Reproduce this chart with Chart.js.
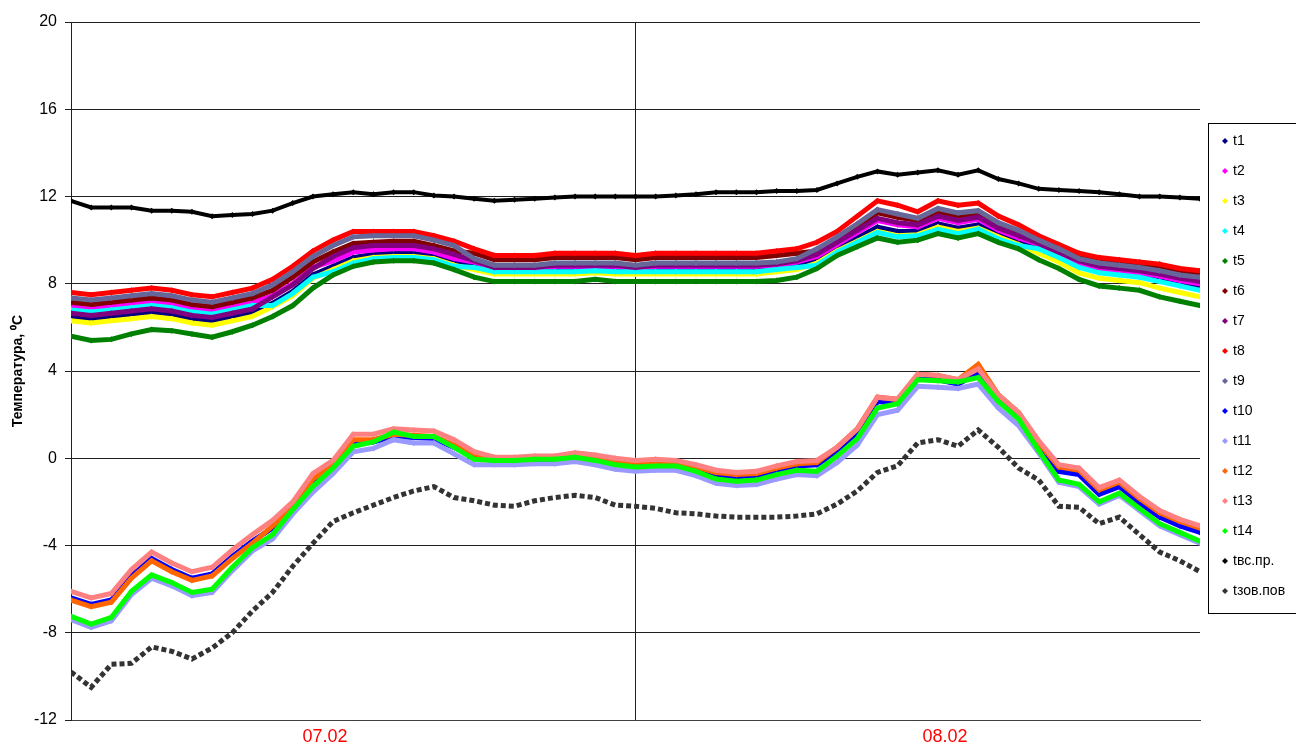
<!DOCTYPE html>
<html>
<head>
<meta charset="utf-8">
<title>Температура</title>
<script src="https://cdn.jsdelivr.net/npm/chart.js@4.4.1/dist/chart.umd.min.js"></script>
<style>
    html, body { margin: 0; padding: 0; background: #fff; }
    canvas { display: block; }
</style>
</head>
<body>
<canvas id="tempChart" width="1296" height="746"></canvas>
<script>
// Series names (legend order) and their Excel-style colours
const seriesNames = ['t1', 't2', 't3', 't4', 't5', 't6', 't7', 't8', 't9', 't10', 't11', 't12', 't13', 't14', 'tвс.пр.', 'tзов.пов'];
const seriesColors = ['#000080', '#ff00ff', '#ffff00', '#00ffff', '#008000', '#800000', '#800080', '#ff0000',
    '#666699', '#0000ff', '#9999ff', '#ff6600', '#ff8080', '#00ff00', '#000000', '#333333'];

// x axis: sample index, two date labels and a gridline in the middle
const xTickPos = [12.6, 28, 43.35];
const xTickLabels = ['07.02', '', '08.02'];

// Readings (°C), one value per sample
const t1 = [6.5,6.4,6.5,6.6,6.7,6.6,6.4,6.3,6.5,6.7, 7.1,7.65,8.4,8.8,9.2,9.35,9.4,9.4,9.25,9.0, 8.9,8.7,8.7,8.7,8.7,8.7,8.75,8.7,8.7,8.7,
    8.7,8.7,8.7,8.7,8.7,8.8,8.9,9.05,9.65,10.1, 10.6,10.4,10.4,10.75,10.55,10.7,10.25,9.95,9.65,9.25, 8.8,8.55,8.45,8.35,8.15,7.95,7.8];
const t2 = [6.95,6.85,6.95,7.05,7.15,7.05,6.85,6.75,6.95,7.15, 7.45,8.0,8.75,9.05,9.45,9.55,9.6,9.6,9.45,9.15, 9.0,8.7,8.7,8.7,8.8,8.8,8.8,8.8,8.7,8.8,
    8.8,8.8,8.8,8.8,8.8,8.85,9.0,9.25,9.8,10.35, 10.9,10.7,10.6,11.0,10.8,10.95,10.45,10.1,9.8,9.4, 8.95,8.7,8.6,8.5,8.35,8.15,8.0];
const t3 = [6.3,6.2,6.3,6.4,6.5,6.4,6.2,6.1,6.3,6.5, 6.95,7.45,8.25,8.65,9.05,9.2,9.25,9.25,9.15,8.85, 8.65,8.45,8.45,8.45,8.45,8.45,8.5,8.45,8.45,8.45,
    8.45,8.45,8.45,8.45,8.45,8.55,8.65,8.95,9.5,9.95, 10.4,10.2,10.25,10.6,10.4,10.55,10.15,9.8,9.4,9.0, 8.5,8.25,8.15,8.05,7.8,7.6,7.4];
const t4 = [6.8,6.7,6.8,6.9,7.0,6.9,6.7,6.6,6.8,7.0, 7.0,7.55,8.3,8.55,8.95,9.15,9.2,9.2,9.1,8.8, 8.75,8.55,8.55,8.55,8.55,8.55,8.6,8.55,8.55,8.55,
    8.55,8.55,8.55,8.55,8.55,8.65,8.75,8.85,9.45,9.9, 10.35,10.15,10.2,10.5,10.3,10.5,10.05,9.75,9.6,9.2, 8.75,8.5,8.4,8.3,8.1,7.9,7.7];
const t5 = [5.6,5.4,5.45,5.7,5.9,5.85,5.7,5.55,5.8,6.1, 6.5,7.0,7.8,8.4,8.8,9.0,9.05,9.05,8.95,8.65, 8.3,8.1,8.1,8.1,8.1,8.1,8.2,8.1,8.1,8.1,
    8.1,8.1,8.1,8.1,8.1,8.15,8.3,8.7,9.3,9.7, 10.1,9.9,10.0,10.3,10.1,10.3,9.9,9.6,9.1,8.7, 8.2,7.9,7.8,7.7,7.4,7.2,7.0];
const t6 = [7.15,7.05,7.15,7.25,7.35,7.25,7.05,6.95,7.15,7.35, 7.7,8.3,9.0,9.45,9.85,9.9,9.95,9.95,9.75,9.5, 9.4,9.1,9.1,9.1,9.2,9.2,9.2,9.2,9.1,9.2,
    9.2,9.2,9.2,9.2,9.2,9.3,9.4,9.5,10.05,10.65, 11.25,11.05,10.9,11.3,11.1,11.25,10.7,10.35,10.1,9.7, 9.3,9.05,8.95,8.85,8.75,8.55,8.45];
const t7 = [6.65,6.55,6.65,6.75,6.85,6.75,6.55,6.45,6.65,6.85, 7.4,7.95,8.7,9.25,9.65,9.75,9.75,9.75,9.6,9.35, 9.05,8.75,8.75,8.75,8.85,8.85,8.85,8.85,8.75,8.85,
    8.85,8.85,8.85,8.85,8.85,8.9,9.05,9.35,9.9,10.45, 11.0,10.8,10.7,11.1,10.9,11.05,10.55,10.2,9.85,9.45, 9.05,8.8,8.7,8.6,8.45,8.25,8.1];
const t8 = [7.6,7.5,7.6,7.7,7.8,7.7,7.5,7.4,7.6,7.8, 8.2,8.8,9.5,10.0,10.4,10.4,10.4,10.4,10.2,9.95, 9.6,9.3,9.3,9.3,9.4,9.4,9.4,9.4,9.3,9.4,
    9.4,9.4,9.4,9.4,9.4,9.5,9.6,9.9,10.4,11.1, 11.8,11.6,11.3,11.8,11.6,11.7,11.1,10.7,10.2,9.8, 9.4,9.2,9.1,9.0,8.9,8.7,8.6];
const t9 = [7.35,7.25,7.35,7.45,7.55,7.45,7.25,7.15,7.35,7.55, 7.95,8.55,9.25,9.75,10.15,10.2,10.2,10.2,10.0,9.75, 9.15,8.85,8.85,8.85,8.95,8.95,8.95,8.95,8.85,8.95,
    8.95,8.95,8.95,8.95,8.95,9.0,9.15,9.6,10.15,10.75, 11.4,11.2,11.0,11.45,11.25,11.35,10.8,10.45,10.0,9.6, 9.15,8.95,8.85,8.75,8.6,8.4,8.3];
const t10 = [-6.4,-6.7,-6.5,-5.4,-4.6,-5.1,-5.5,-5.3,-4.5,-3.8, -3.2,-2.35,-1.05,-0.45,0.75,0.75,1.0,0.95,0.9,0.5, 0.1,-0.15,-0.15,-0.1,-0.1,0.05,-0.05,-0.2,-0.3,-0.25,
    -0.3,-0.5,-0.75,-0.85,-0.8,-0.55,-0.35,-0.3,0.3,1.15, 2.6,2.5,3.65,3.6,3.4,3.9,2.7,1.9,0.5,-0.6, -0.75,-1.65,-1.3,-2.05,-2.7,-3.1,-3.4];
const t11 = [-7.4,-7.75,-7.45,-6.25,-5.5,-5.85,-6.3,-6.15,-5.15,-4.25, -3.7,-2.55,-1.55,-0.7,0.3,0.45,0.85,0.7,0.7,0.2, -0.3,-0.3,-0.3,-0.25,-0.25,-0.15,-0.3,-0.5,-0.6,-0.55,
    -0.55,-0.8,-1.15,-1.25,-1.2,-0.95,-0.75,-0.8,-0.2,0.6, 2.0,2.2,3.3,3.25,3.2,3.4,2.3,1.5,0.25,-1.1, -1.3,-2.1,-1.7,-2.4,-3.1,-3.5,-3.9];
const t12 = [-6.5,-6.8,-6.6,-5.5,-4.7,-5.2,-5.6,-5.4,-4.6,-3.9, -3.1,-2.25,-0.95,-0.35,0.85,0.85,1.1,1.05,1.0,0.6, 0.2,-0.05,-0.05,0.0,0.0,0.15,0.05,-0.1,-0.2,-0.15,
    -0.2,-0.4,-0.65,-0.75,-0.7,-0.45,-0.25,-0.2,0.5,1.35, 2.8,2.7,3.85,3.8,3.6,4.3,2.9,2.1,0.7,-0.4, -0.55,-1.45,-1.1,-1.85,-2.5,-2.9,-3.2];
const t13 = [-6.1,-6.4,-6.2,-5.1,-4.3,-4.8,-5.2,-5.0,-4.2,-3.5, -2.85,-2.0,-0.7,-0.1,1.1,1.1,1.35,1.3,1.25,0.85, 0.3,0.05,0.05,0.1,0.1,0.25,0.15,0.0,-0.1,-0.05,
    -0.1,-0.3,-0.55,-0.65,-0.6,-0.35,-0.15,-0.1,0.5,1.35, 2.8,2.7,3.85,3.8,3.6,4.1,2.9,2.1,0.8,-0.3, -0.45,-1.35,-1.0,-1.75,-2.4,-2.8,-3.1];
const t14 = [-7.25,-7.6,-7.3,-6.1,-5.35,-5.7,-6.15,-6.0,-5.0,-4.1, -3.5,-2.35,-1.3,-0.45,0.55,0.75,1.2,1.0,1.0,0.5, -0.05,-0.1,-0.1,-0.05,-0.05,0.05,-0.1,-0.3,-0.4,-0.35,
    -0.35,-0.6,-0.95,-1.05,-1.0,-0.75,-0.55,-0.6,0.1,0.9, 2.3,2.5,3.6,3.55,3.5,3.7,2.6,1.8,0.35,-1.0, -1.2,-2.0,-1.6,-2.3,-3.0,-3.4,-3.8];
const tvsPr = [11.8,11.5,11.5,11.5,11.35,11.35,11.3,11.1,11.15,11.2, 11.35,11.7,12.0,12.1,12.2,12.1,12.2,12.2,12.05,12.0, 11.9,11.8,11.85,11.9,11.95,12.0,12.0,12.0,12.0,12.0,
    12.05,12.1,12.2,12.2,12.2,12.25,12.25,12.3,12.6,12.9, 13.15,13.0,13.1,13.2,13.0,13.2,12.8,12.6,12.35,12.3, 12.25,12.2,12.1,12.0,12.0,11.95,11.9];
const tzovPov = [-9.8,-10.5,-9.45,-9.4,-8.65,-8.85,-9.2,-8.7,-8.0,-7.0, -6.15,-4.95,-3.9,-2.9,-2.5,-2.15,-1.8,-1.5,-1.3,-1.8, -1.95,-2.15,-2.2,-1.95,-1.8,-1.7,-1.8,-2.15,-2.2,-2.3,
    -2.5,-2.55,-2.65,-2.7,-2.7,-2.7,-2.65,-2.55,-2.1,-1.5, -0.65,-0.35,0.7,0.85,0.55,1.3,0.5,-0.45,-1.0,-2.2, -2.25,-3.0,-2.7,-3.5,-4.3,-4.7,-5.2];

const seriesValues = [t1, t2, t3, t4, t5, t6, t7, t8, t9, t10, t11, t12, t13, t14, tvsPr, tzovPov];

Chart.defaults.font.family = 'Arial, "Liberation Sans", sans-serif';

function toPoints(values) {
    return values.map((v, i) => ({ x: i, y: v }));
}

// Excel draws later series on top, so give them a lower order
function makeDataset(name, values, color, idx) {
    const dotted = name === 'tзов.пов';
    const black = name === 'tвс.пр.';
    return {
        label: name,
        data: toPoints(values),
        borderColor: color,
        backgroundColor: color,
        borderWidth: dotted ? 5 : (black ? 4 : 5),
        borderDash: dotted ? [5, 3] : [],
        pointStyle: 'rectRot',
        pointRadius: dotted ? 0 : 3,
        pointBorderWidth: 0,
        tension: 0,
        order: seriesValues.length - idx
    };
}

// Legend drawn as a framed box on the right, like the Excel one
const legendBox = {
    id: 'legendBox',
    afterDraw(chart) {
        const ctx = chart.ctx;
        ctx.save();
        ctx.fillStyle = '#fff';
        ctx.fillRect(1209, 124, 90, 490);
        ctx.strokeStyle = '#000';
        ctx.lineWidth = 1;
        ctx.strokeRect(1208.5, 123.5, 100, 490);
        ctx.font = '14px Arial, "Liberation Sans", sans-serif';
        ctx.textBaseline = 'middle';
        seriesNames.forEach((name, i) => {
            const y = 141 + i * 30;
            ctx.fillStyle = seriesColors[i];
            ctx.beginPath();
            ctx.moveTo(1225, y - 3);
            ctx.lineTo(1228, y);
            ctx.lineTo(1225, y + 3);
            ctx.lineTo(1222, y);
            ctx.closePath();
            ctx.fill();
            ctx.fillStyle = '#000';
            ctx.fillText(name, 1233, y);
        });
        ctx.restore();
    }
};

function createTemperatureChart() {
    const ctx = document.getElementById('tempChart').getContext('2d');
    const datasets = seriesValues.map((vals, i) => makeDataset(seriesNames[i], vals, seriesColors[i], i));

    new Chart(ctx, {
        type: 'line',
        data: { datasets: datasets },
        plugins: [legendBox],
        options: {
            responsive: false,
            animation: false,
            layout: { padding: { top: 22, right: 96, bottom: 0, left: 0 } },
            plugins: {
                legend: { display: false },
                tooltip: { enabled: false }
            },
            scales: {
                x: {
                    type: 'linear',
                    min: 0,
                    max: t1.length - 1,
                    afterBuildTicks: scale => { scale.ticks = xTickPos.map(v => ({ value: v })); },
                    afterFit: scale => { scale.height = 26; },
                    ticks: {
                        autoSkip: false,
                        maxRotation: 0,
                        color: '#ff0000',
                        font: { size: 18 },
                        padding: 6,
                        callback: (value, index) => xTickLabels[index]
                    },
                    grid: {
                        drawTicks: false,
                        color: c => (c.tick && c.tick.value === xTickPos[1]) ? '#202020' : 'rgba(0,0,0,0)'
                    },
                    border: { color: '#404040' }
                },
                y: {
                    min: -12,
                    max: 20,
                    afterFit: scale => { scale.width = 71; },
                    ticks: { stepSize: 4, color: '#000', font: { size: 16 }, padding: 8 },
                    grid: { color: '#202020', tickLength: 6 },
                    border: { color: '#202020' },
                    title: {
                        display: true,
                        text: 'Температура, \u2070C',
                        color: '#000',
                        font: { size: 14, weight: 'bold' },
                        padding: { top: 10 }
                    }
                }
            }
        }
    });
}

createTemperatureChart();
</script>
</body>
</html>
